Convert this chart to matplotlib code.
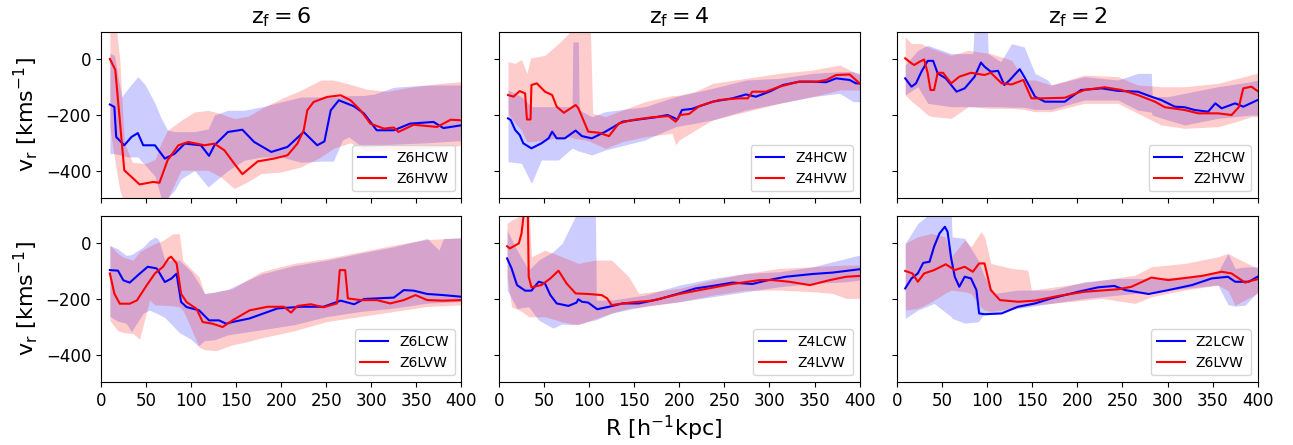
import matplotlib
matplotlib.use("Agg")
import matplotlib.pyplot as plt

# ---------------- z_f = 6, H ----------------
z6h_cw_x = [10, 15, 17, 26, 34, 41, 47, 60, 71, 82, 93, 111, 120, 126, 141, 157, 170, 189, 207, 225, 240, 248, 255, 264, 281, 292, 306, 325, 343, 369, 380, 400]
z6h_cw_v = [-162, -171, -279, -309, -279, -265, -309, -309, -357, -339, -303, -309, -347, -309, -261, -253, -297, -333, -315, -261, -309, -295, -183, -147, -169, -195, -255, -255, -231, -225, -247, -237]
z6h_vw_x = [10, 16, 21, 26, 43, 58, 65, 74, 86, 97, 115, 126, 137, 148, 157, 174, 192, 207, 218, 225, 229, 236, 251, 266, 277, 288, 299, 314, 325, 330, 347, 373, 388, 400]
z6h_vw_v = [2, -37, -219, -399, -450, -441, -444, -363, -309, -297, -309, -303, -327, -375, -413, -367, -357, -345, -303, -255, -183, -153, -135, -129, -147, -183, -231, -249, -245, -261, -235, -243, -217, -219]
z6h_cw_bx = [10, 15, 23, 30, 41, 49, 60, 67, 74, 82, 89, 104, 119, 126, 141, 159, 178, 200, 222, 244, 258, 268, 275, 290, 303, 325, 362, 400]
z6h_cw_hi = [22, 15, -135, -105, -62, -90, -158, -212, -254, -260, -260, -260, -250, -200, -183, -183, -171, -153, -135, -135, -135, -135, -130, -130, -125, -100, -92, -92]
z6h_cw_lo = [-339, -339, -345, -351, -351, -380, -420, -500, -500, -470, -430, -400, -459, -440, -400, -363, -351, -351, -370, -366, -366, -290, -279, -315, -312, -305, -300, -292]
z6h_vw_bx = [10, 16, 21, 26, 35, 49, 60, 67, 74, 89, 104, 119, 133, 148, 163, 178, 200, 222, 244, 258, 277, 295, 317, 343, 380, 400]
z6h_vw_hi = [150, 150, 0, -300, -370, -375, -360, -300, -255, -219, -189, -183, -195, -213, -205, -177, -141, -111, -74, -74, -90, -107, -115, -100, -85, -80]
z6h_vw_lo = [-243, -375, -470, -520, -520, -520, -520, -520, -500, -399, -399, -399, -423, -465, -440, -411, -405, -387, -351, -320, -300, -330, -330, -325, -315, -310]

# ---------------- z_f = 4, H ----------------
z4h_cw_x = [10, 13, 18, 23, 27, 36, 47, 55, 59, 64, 73, 85, 92, 103, 118, 137, 155, 174, 187, 198, 203, 214, 237, 259, 274, 285, 300, 315, 333, 348, 363, 374, 389, 396, 400]
z4h_cw_v = [-212, -218, -254, -272, -302, -320, -302, -284, -260, -284, -284, -256, -276, -284, -260, -224, -216, -208, -200, -216, -182, -178, -152, -140, -126, -134, -116, -92, -80, -80, -82, -68, -74, -86, -86]
z4h_vw_x = [10, 16, 23, 29, 31, 35, 36, 42, 51, 59, 64, 72, 85, 88, 99, 111, 122, 133, 148, 170, 188, 196, 201, 211, 222, 244, 266, 276, 281, 296, 311, 333, 352, 363, 374, 389, 400]
z4h_vw_v = [-128, -134, -114, -122, -216, -216, -92, -86, -116, -128, -170, -192, -164, -175, -260, -264, -276, -230, -218, -208, -204, -224, -200, -196, -168, -146, -140, -140, -116, -116, -98, -80, -80, -74, -56, -54, -86]
z4h_cw_bx = [10, 25, 36, 47, 66, 81, 82, 88, 89, 103, 118, 162, 196, 237, 274, 311, 348, 378, 393, 400]
z4h_cw_hi = [-110, -134, -170, -170, -170, -170, 63, 63, -182, -206, -188, -170, -134, -104, -74, -68, -50, -44, -44, -50]
z4h_cw_lo = [-368, -374, -446, -362, -362, -320, -320, -330, -330, -344, -326, -290, -242, -218, -182, -158, -134, -122, -152, -152]
z4h_vw_bx = [10, 18, 25, 31, 35, 51, 66, 77, 85, 96, 101, 104, 118, 137, 162, 192, 196, 200, 218, 237, 274, 311, 348, 378, 400]
z4h_vw_hi = [-8, -14, 0, -50, 5, 15, 57, 93, 150, 150, 150, -194, -206, -182, -152, -130, -130, -128, -115, -86, -68, -50, -38, -20, -56]
z4h_vw_lo = [-194, -230, -254, -296, -296, -290, -280, -278, -285, -290, -295, -300, -320, -296, -278, -266, -308, -290, -254, -218, -188, -158, -134, -110, -110]

# ---------------- z_f = 2, H ----------------
z2h_cw_x = [9, 16, 21, 27, 34, 40, 45, 54, 66, 75, 86, 93, 97, 104, 112, 119, 125, 136, 141, 153, 164, 186, 204, 227, 245, 267, 282, 293, 308, 319, 330, 345, 353, 360, 375, 384, 400]
z2h_cw_v = [-68, -98, -86, -44, -5, -5, -50, -68, -116, -104, -62, -11, -26, -44, -41, -92, -74, -35, -62, -134, -152, -152, -110, -104, -113, -116, -134, -146, -170, -172, -182, -188, -158, -176, -158, -170, -146]
z2h_vw_x = [9, 16, 19, 25, 30, 34, 37, 41, 45, 51, 60, 69, 82, 97, 104, 116, 127, 140, 149, 160, 186, 208, 230, 249, 267, 286, 297, 319, 334, 356, 371, 379, 384, 393, 400]
z2h_vw_v = [4, -14, -20, -8, 0, -50, -110, -110, -48, -48, -86, -62, -48, -56, -48, -86, -90, -74, -140, -140, -138, -110, -100, -110, -128, -152, -172, -182, -194, -194, -200, -172, -104, -98, -114]
z2h_cw_bx = [9, 23, 34, 60, 84, 86, 100, 101, 115, 127, 141, 153, 167, 171, 208, 245, 267, 282, 283, 300, 319, 356, 393, 400]
z2h_cw_hi = [-20, 33, 51, 21, 21, 150, 150, 21, -8, 57, 45, -50, -74, -92, -62, -74, -50, -50, -134, -134, -122, -98, -80, -74]
z2h_cw_lo = [-128, -98, -158, -170, -170, -170, -170, -170, -170, -172, -172, -180, -180, -180, -146, -146, -182, -190, -200, -218, -236, -212, -200, -200]
z2h_vw_bx = [9, 16, 27, 34, 38, 60, 79, 104, 127, 141, 153, 171, 208, 245, 267, 293, 319, 356, 375, 393, 400]
z2h_vw_hi = [81, 57, 57, 45, 40, 15, 33, 21, -3, -74, -74, -92, -56, -62, -92, -98, -98, -86, -70, -55, -50]
z2h_vw_lo = [-128, -150, -180, -200, -205, -212, -170, -176, -176, -180, -188, -188, -158, -158, -194, -236, -248, -242, -225, -206, -206]

# ---------------- z_f = 6, L ----------------
z6l_cw_x = [10, 19, 25, 32, 43, 52, 62, 71, 78, 84, 89, 95, 109, 120, 131, 139, 146, 165, 196, 222, 247, 266, 281, 292, 325, 336, 347, 362, 380, 400]
z6l_cw_v = [-96, -98, -133, -141, -109, -84, -90, -139, -127, -109, -211, -229, -241, -277, -277, -289, -283, -270, -234, -228, -228, -206, -219, -200, -195, -168, -170, -182, -186, -192]
z6l_vw_x = [10, 15, 21, 32, 40, 51, 60, 69, 75, 78, 84, 89, 95, 106, 113, 124, 135, 146, 165, 185, 203, 211, 218, 233, 247, 262, 265, 271, 274, 288, 306, 321, 336, 349, 362, 380, 400]
z6l_vw_v = [-108, -181, -217, -217, -205, -150, -108, -84, -54, -48, -72, -181, -211, -235, -283, -289, -301, -277, -241, -228, -228, -249, -225, -219, -230, -216, -96, -96, -198, -204, -204, -216, -204, -186, -204, -206, -204]
z6l_cw_bx = [10, 19, 28, 34, 47, 54, 60, 64, 71, 87, 100, 108, 115, 126, 141, 178, 214, 251, 288, 325, 362, 375, 380, 400]
z6l_cw_hi = [-7, -20, -43, -40, -13, 11, 23, 15, -60, -60, -100, -140, -180, -175, -165, -110, -80, -60, -35, -12, 18, -24, 18, 20]
z6l_cw_lo = [-263, -280, -287, -317, -251, -240, -249, -255, -267, -321, -345, -369, -350, -347, -329, -311, -293, -263, -245, -233, -215, -213, -212, -209]
z6l_vw_bx = [10, 19, 25, 36, 43, 54, 60, 69, 80, 87, 91, 98, 109, 115, 128, 146, 161, 178, 214, 251, 288, 325, 362, 400]
z6l_vw_hi = [-7, -36, -50, -60, -30, -10, 0, 11, 35, 35, -61, -85, -121, -181, -175, -163, -133, -102, -72, -54, -30, -6, 14, 20]
z6l_vw_lo = [-278, -315, -321, -325, -345, -204, -222, -222, -225, -228, -240, -290, -374, -383, -386, -365, -355, -340, -315, -281, -263, -245, -227, -221]

# ---------------- z_f = 4, L ----------------
z4l_cw_x = [9, 14, 20, 29, 36, 44, 51, 57, 64, 77, 86, 88, 92, 99, 109, 122, 137, 155, 177, 200, 218, 237, 259, 281, 296, 318, 348, 370, 400]
z4l_cw_v = [-54, -90, -150, -170, -170, -138, -144, -186, -216, -225, -213, -201, -210, -213, -237, -228, -216, -216, -201, -180, -162, -153, -141, -146, -134, -120, -110, -105, -93]
z4l_vw_x = [9, 12, 22, 25, 28, 32, 33, 36, 47, 57, 66, 75, 85, 99, 114, 120, 125, 148, 170, 200, 229, 259, 289, 303, 322, 345, 367, 385, 400]
z4l_vw_v = [-10, -18, 0, 36, 120, 120, -120, -158, -150, -126, -98, -144, -180, -182, -186, -198, -222, -212, -206, -182, -164, -146, -132, -132, -138, -150, -132, -120, -117]
z4l_cw_bx = [9, 20, 33, 44, 60, 70, 81, 88, 107, 108, 125, 162, 200, 237, 274, 311, 348, 385, 400]
z4l_cw_hi = [48, -24, -96, -60, -30, 0, 72, 120, 120, -204, -204, -186, -150, -126, -108, -102, -84, -54, -42]
z4l_cw_lo = [-168, -234, -228, -276, -305, -290, -293, -290, -275, -275, -251, -226, -210, -192, -174, -156, -144, -138, -132]
z4l_vw_bx = [9, 14, 22, 25, 33, 36, 51, 70, 88, 107, 125, 144, 155, 200, 237, 274, 311, 348, 370, 385, 400]
z4l_vw_hi = [72, 84, 96, 150, 150, -48, -24, -48, -72, -60, -60, -120, -180, -162, -132, -108, -90, -84, -80, -78, -78]
z4l_vw_lo = [-120, -228, -240, -245, -264, -264, -264, -282, -293, -270, -251, -233, -230, -210, -186, -168, -168, -174, -180, -198, -198]

# ---------------- z_f = 2, L ----------------
z2l_cw_x = [9, 16, 23, 29, 36, 41, 47, 53, 56, 60, 64, 69, 75, 82, 88, 91, 97, 116, 134, 153, 171, 201, 223, 241, 253, 279, 301, 327, 349, 367, 375, 390, 400]
z2l_cw_v = [-162, -126, -108, -70, -66, -12, 36, 60, 42, -54, -120, -156, -120, -126, -168, -252, -255, -252, -228, -216, -198, -174, -158, -153, -168, -182, -168, -150, -126, -120, -138, -138, -120]
z2l_vw_x = [9, 17, 23, 30, 41, 54, 64, 75, 84, 91, 97, 104, 114, 134, 153, 179, 208, 245, 260, 282, 301, 338, 360, 371, 386, 393, 400]
z2l_vw_v = [-99, -108, -138, -108, -96, -75, -96, -84, -102, -72, -72, -168, -204, -210, -206, -189, -174, -165, -156, -123, -132, -117, -102, -108, -141, -134, -129]
z2l_cw_bx = [9, 23, 41, 60, 61, 75, 90, 97, 108, 134, 171, 208, 245, 282, 319, 356, 367, 375, 386, 400]
z2l_cw_hi = [0, 72, 120, 120, 24, 18, -60, -120, -180, -168, -168, -138, -126, -126, -120, -102, -36, -90, -85, -84]
z2l_cw_lo = [-270, -240, -216, -264, -270, -287, -282, -252, -250, -234, -216, -198, -186, -174, -162, -150, -220, -226, -222, -174]
z2l_vw_bx = [9, 23, 38, 53, 60, 75, 82, 93, 97, 104, 127, 145, 149, 190, 227, 264, 282, 319, 356, 367, 375, 400]
z2l_vw_hi = [0, 24, 36, 24, -48, 12, -12, 42, 24, -72, -90, -96, -168, -150, -132, -114, -84, -72, -48, -36, -50, -90]
z2l_vw_lo = [-240, -234, -210, -180, -168, -174, -180, -230, -240, -245, -234, -225, -222, -210, -198, -216, -192, -168, -150, -170, -222, -180]

titles = [r'$\mathrm{z_f = 6}$', r'$\mathrm{z_f = 4}$', r'$\mathrm{z_f = 2}$']

panels = [
    # row, col, blue label, red label, blue line, red line, blue band, red band
    (0, 0, 'Z6HCW', 'Z6HVW', (z6h_cw_x, z6h_cw_v), (z6h_vw_x, z6h_vw_v),
     (z6h_cw_bx, z6h_cw_lo, z6h_cw_hi), (z6h_vw_bx, z6h_vw_lo, z6h_vw_hi)),
    (0, 1, 'Z4HCW', 'Z4HVW', (z4h_cw_x, z4h_cw_v), (z4h_vw_x, z4h_vw_v),
     (z4h_cw_bx, z4h_cw_lo, z4h_cw_hi), (z4h_vw_bx, z4h_vw_lo, z4h_vw_hi)),
    (0, 2, 'Z2HCW', 'Z2HVW', (z2h_cw_x, z2h_cw_v), (z2h_vw_x, z2h_vw_v),
     (z2h_cw_bx, z2h_cw_lo, z2h_cw_hi), (z2h_vw_bx, z2h_vw_lo, z2h_vw_hi)),
    (1, 0, 'Z6LCW', 'Z6LVW', (z6l_cw_x, z6l_cw_v), (z6l_vw_x, z6l_vw_v),
     (z6l_cw_bx, z6l_cw_lo, z6l_cw_hi), (z6l_vw_bx, z6l_vw_lo, z6l_vw_hi)),
    (1, 1, 'Z4LCW', 'Z4LVW', (z4l_cw_x, z4l_cw_v), (z4l_vw_x, z4l_vw_v),
     (z4l_cw_bx, z4l_cw_lo, z4l_cw_hi), (z4l_vw_bx, z4l_vw_lo, z4l_vw_hi)),
    (1, 2, 'Z2LCW', 'Z6LVW', (z2l_cw_x, z2l_cw_v), (z2l_vw_x, z2l_vw_v),
     (z2l_cw_bx, z2l_cw_lo, z2l_cw_hi), (z2l_vw_bx, z2l_vw_lo, z2l_vw_hi)),
]

fig, axes = plt.subplots(2, 3, sharex=True, sharey=True, figsize=(12.93, 4.45), dpi=100)
fig.subplots_adjust(left=0.078, right=0.9727, top=0.9288, bottom=0.1409, wspace=0.104, hspace=0.104)

for row, col, lab_b, lab_r, line_b, line_r, band_b, band_r in panels:
    ax = axes[row, col]
    ax.fill_between(band_b[0], band_b[1], band_b[2], color='blue', alpha=0.2, linewidth=0)
    ax.fill_between(band_r[0], band_r[1], band_r[2], color='red', alpha=0.2, linewidth=0)
    ax.plot(line_b[0], line_b[1], color='blue', lw=1.5, label=lab_b)
    ax.plot(line_r[0], line_r[1], color='red', lw=1.5, label=lab_r)
    ax.legend(loc='lower right', fontsize=10)
    ax.tick_params(labelsize=12)

for col in range(3):
    axes[0, col].set_title(titles[col], fontsize=16)
for row in range(2):
    axes[row, 0].set_ylabel(r'$\mathrm{v_r\ [kms^{-1}]}$', fontsize=16)

ax = axes[0, 0]
ax.set_xlim(0, 400)
ax.set_ylim(-500, 100)
ax.set_xticks(range(0, 401, 50))
ax.set_yticks([-400, -200, 0])

fig.text(0.513, 0.02, r'$\mathrm{R\ [h^{-1}kpc]}$', ha='center', fontsize=16)

fig.savefig('out.png', dpi=100)
